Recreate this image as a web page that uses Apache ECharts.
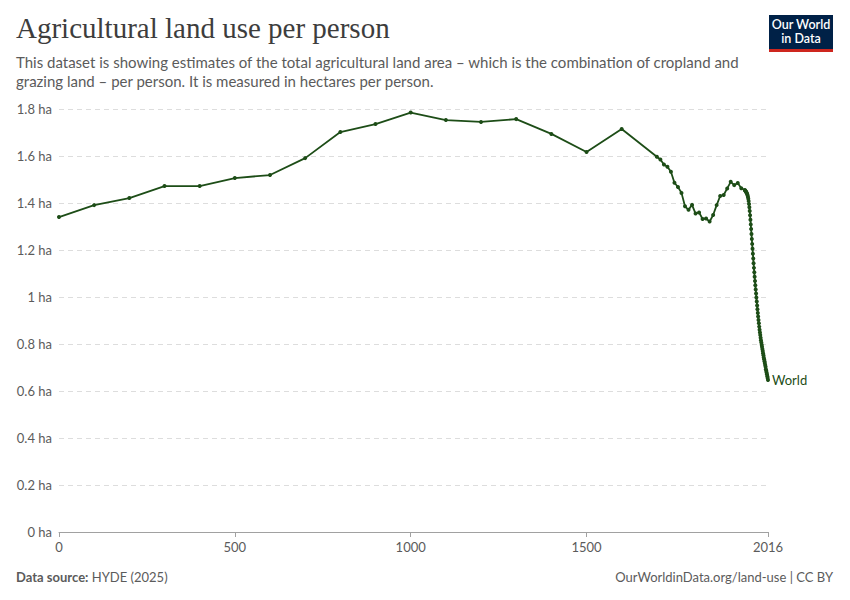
<!DOCTYPE html>
<html>
<head>
<meta charset="utf-8">
<title>Agricultural land use per person</title>
<script src="https://cdn.jsdelivr.net/npm/echarts@6/dist/echarts.min.js"></script>
<style>
  html, body { margin: 0; padding: 0; background: #fff; }
  #main { width: 850px; height: 600px; }
</style>
</head>
<body>
<div id="main"></div>
<script>
// years 0..1700 (one point per century)
var centuryYears = [0, 100, 200, 300, 400, 500, 600, 700, 800, 900, 1000, 1100, 1200, 1300, 1400, 1500, 1600, 1700];
var centuryValues = [1.340, 1.391, 1.421, 1.472, 1.472, 1.506, 1.519, 1.591, 1.702, 1.736, 1.785, 1.753, 1.745, 1.757, 1.694, 1.617, 1.715, 1.597];

// 1710..1940 (one point per decade)
var decadeYears = [1710, 1720, 1730, 1740, 1750, 1760, 1770, 1780, 1790, 1800, 1810, 1820,
                   1830, 1840, 1850, 1860, 1870, 1880, 1890, 1900, 1910, 1920, 1930, 1940];
var decadeValues = [1.585, 1.564, 1.554, 1.533, 1.486, 1.468, 1.443, 1.386, 1.371, 1.392, 1.355, 1.360,
                    1.332, 1.334, 1.321, 1.349, 1.391, 1.430, 1.434, 1.462, 1.490, 1.476, 1.485, 1.463];

// 1950..2016 (annual)
var annualYears = [1950, 1951, 1952, 1953, 1954, 1955, 1956, 1957, 1958, 1959,
                   1960, 1961, 1962, 1963, 1964, 1965, 1966, 1967, 1968, 1969,
                   1970, 1971, 1972, 1973, 1974, 1975, 1976, 1977, 1978, 1979,
                   1980, 1981, 1982, 1983, 1984, 1985, 1986, 1987, 1988, 1989,
                   1990, 1991, 1992, 1993, 1994, 1995, 1996, 1997, 1998, 1999,
                   2000, 2001, 2002, 2003, 2004, 2005, 2006, 2007, 2008, 2009,
                   2010, 2011, 2012, 2013, 2014, 2015, 2016];
var annualValues = [1.455, 1.453, 1.451, 1.449, 1.447, 1.444, 1.441, 1.437, 1.432, 1.426,
                    1.418, 1.408, 1.396, 1.382, 1.366, 1.348, 1.329, 1.309, 1.289, 1.268,
                    1.247, 1.226, 1.205, 1.184, 1.164, 1.144, 1.124, 1.105, 1.086, 1.068,
                    1.050, 1.032, 1.015, 0.998, 0.981, 0.964, 0.948, 0.932, 0.917, 0.902,
                    0.888, 0.874, 0.861, 0.849, 0.838, 0.827, 0.816, 0.806, 0.797, 0.788,
                    0.779, 0.770, 0.761, 0.752, 0.743, 0.735, 0.727, 0.719, 0.711, 0.703,
                    0.693, 0.686, 0.679, 0.671, 0.663, 0.655, 0.647];

var xTickLabels = [0, 500, 1000, 1500, 2016];

var allYears = centuryYears.concat(decadeYears, annualYears);
var allValues = centuryValues.concat(decadeValues, annualValues);
var worldData = allYears.map(function (y, i) { return [y, allValues[i]]; });

var lineColor = '#1d4d17';
var textFont = 'Lato, "Noto Sans", sans-serif';

var chart = echarts.init(document.getElementById('main'), null, { renderer: 'svg' });

var option = {
    animation: false,
    grid: { left: 59, right: 82, top: 109, bottom: 68, containLabel: false },
    graphic: [
        {
            type: 'text', x: 16, y: 13,
            style: { text: 'Agricultural land use per person', font: '29px "Liberation Serif", "DejaVu Serif", serif', fill: '#3d3d3d' }
        },
        {
            type: 'text', x: 16, y: 52,
            style: {
                text: 'This dataset is showing estimates of the total agricultural land area – which is the combination of cropland and\ngrazing land – per person. It is measured in hectares per person.',
                font: '15px ' + textFont, fill: '#5b5b5b', lineHeight: 19
            }
        },
        // logo
        { type: 'rect', x: 769, y: 15, shape: { width: 64, height: 36 }, style: { fill: '#002147' } },
        { type: 'rect', x: 769, y: 49, shape: { width: 64, height: 3 }, style: { fill: '#ce261e' } },
        {
            type: 'text', x: 801, y: 18,
            style: { text: 'Our World', font: '600 12.5px ' + textFont, fill: '#fff', align: 'center', verticalAlign: 'top' }
        },
        {
            type: 'text', x: 801, y: 32,
            style: { text: 'in Data', font: '600 12.5px ' + textFont, fill: '#fff', align: 'center', verticalAlign: 'top' }
        },
        // footer
        {
            type: 'text', x: 16, y: 570,
            style: {
                text: '{b|Data source:} HYDE (2025)',
                font: '13px ' + textFont, fill: '#5b5b5b',
                rich: { b: { font: 'bold 13px ' + textFont, fill: '#5b5b5b' } }
            }
        },
        {
            type: 'text', x: 833, y: 570,
            style: { text: 'OurWorldinData.org/land-use | CC BY', font: '13px ' + textFont, fill: '#5b5b5b', align: 'right' }
        }
    ],
    xAxis: {
        type: 'value',
        min: 0,
        max: 2016,
        axisLine: { show: true, lineStyle: { color: '#a1a1a1' } },
        axisTick: { show: true, customValues: xTickLabels, length: 5, lineStyle: { color: '#a1a1a1' } },
        axisLabel: {
            customValues: xTickLabels, color: '#5b5b5b', fontFamily: 'Lato', fontSize: 13, margin: 8,
            formatter: function (v) { return String(v); }
        },
        splitLine: { show: false }
    },
    yAxis: {
        type: 'value',
        min: 0,
        max: 1.8,
        interval: 0.2,
        axisLine: { show: false },
        axisTick: { show: false },
        axisLabel: {
            color: '#5b5b5b', fontFamily: 'Lato', fontSize: 13, margin: 7,
            formatter: function (v) { return parseFloat(v.toFixed(1)) + ' ha'; }
        },
        splitLine: { show: true, lineStyle: { color: '#dddddd', type: [5, 4] } }
    },
    series: [{
        name: 'World',
        type: 'line',
        data: worldData,
        showSymbol: true,
        showAllSymbol: true,
        symbol: 'circle',
        symbolSize: 4,
        itemStyle: { color: lineColor },
        lineStyle: { color: lineColor, width: 1.8 },
        endLabel: {
            show: true, formatter: 'World', color: lineColor,
            fontFamily: 'Lato', fontSize: 13, distance: 4
        }
    }]
};

chart.setOption(option);
</script>
</body>
</html>
